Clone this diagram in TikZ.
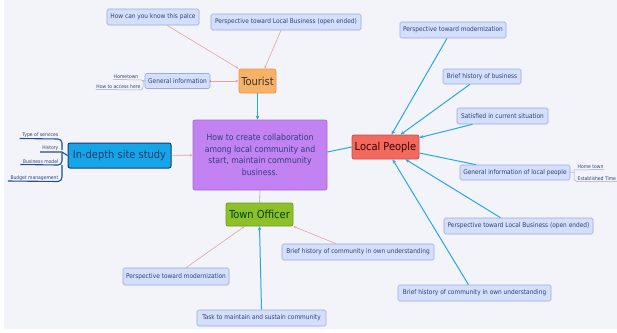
\documentclass[tikz,border=0pt]{standalone}
\usepackage{fontspec}
\setmainfont{DejaVu Sans Condensed}
\usetikzlibrary{arrows.meta}
\definecolor{bgc}{HTML}{F3F4F9}
\definecolor{chfill}{HTML}{D4E0FB}
\definecolor{chdraw}{HTML}{9BAADB}
\definecolor{chtext}{HTML}{2E3F7E}
\definecolor{pinkl}{HTML}{E2A3A3}
\definecolor{bluel}{HTML}{2AA7DF}
\definecolor{tourf}{HTML}{F8B266}
\definecolor{tourd}{HTML}{D89A50}
\definecolor{locf}{HTML}{F26A5E}
\definecolor{locd}{HTML}{C85048}
\definecolor{cenf}{HTML}{C282F2}
\definecolor{cend}{HTML}{A868D8}
\definecolor{indf}{HTML}{14A6E8}
\definecolor{indd}{HTML}{1A3C6A}
\definecolor{townf}{HTML}{8EC02A}
\definecolor{townd}{HTML}{6E9A20}
\definecolor{leafl}{HTML}{1F4F8F}
\definecolor{leafg}{HTML}{A0A8C0}
\begin{document}
\begin{tikzpicture}[x=1pt,y=-1pt,
  child/.style={draw=chdraw,fill=chfill,text=chtext,rounded corners=1.5pt,line width=0.6pt,
     font=\fontsize{6.5}{7.5}\selectfont,inner sep=0pt,minimum height=16pt},
  topic/.style={rounded corners=2pt,line width=0.7pt,inner sep=0pt,font=\fontsize{11}{12}\selectfont},
  leaf/.style={font=\fontsize{5}{6}\selectfont,text=chtext,inner sep=0.5pt},
  pinkc/.style={draw=pinkl,line width=0.6pt,-{Stealth[length=3pt,width=2.5pt]}},
  bluec/.style={draw=bluel,line width=1pt,-{Stealth[length=4pt,width=3.5pt]}}
]
\useasboundingbox (0,0) rectangle (617,332);
\fill[white] (0,0) rectangle (617,332);
\fill[bgc] (4,0) rectangle (617,329);

% center
\node[topic,fill=cenf,draw=cend,text=chtext,minimum width=134pt,minimum height=70pt,align=center,
  font=\fontsize{8.6}{11.5}\selectfont] (c) at (260,155)
  {How to create collaboration\\among local community and\\start, maintain community\\business.};

% topics
\node[topic,fill=tourf,draw=tourd,text=black!80,minimum width=37pt,minimum height=24pt] (tour) at (257.5,81) {Tourist};
\node[topic,fill=locf,draw=locd,text=black!75!red,minimum width=67pt,minimum height=24pt] (loc) at (385.5,147) {Local People};
\node[topic,fill=indf,draw=indd,line width=1pt,text=indd,minimum width=103pt,minimum height=25pt,font=\fontsize{11}{12}\selectfont] (ind) at (119.5,155.5) {In-depth site study};
\node[topic,fill=townf,draw=townd,text=black!75!green,minimum width=67pt,minimum height=23pt] (town) at (259.5,214.5) {Town Officer};

% tourist children
\node[child,minimum width=92pt] (t1) at (153,17) {How can you know this palce};
\node[child,minimum width=150pt] (t2) at (286,22) {Perspective toward Local Business (open ended)};
\node[child,minimum width=65pt,minimum height=15pt] (t3) at (177.5,81) {General information};

% local people children
\node[child,minimum width=106pt] (l1) at (453,30) {Perspective toward modernization};
\node[child,minimum width=78pt,minimum height=15pt] (l2) at (482,76.5) {Brief history of business};
\node[child,minimum width=91pt] (l3) at (502.5,116) {Satisfied in current situation};
\node[child,minimum width=110pt,minimum height=15pt] (l4) at (515,172.5) {General information of local people};
\node[child,minimum width=149pt] (l5) at (518.5,226) {Perspective toward Local Business (open ended)};
\node[child,minimum width=153pt] (l6) at (474.5,293) {Brief history of community in own understanding};

% town officer children
\node[child,minimum width=106pt,minimum height=17pt] (o1) at (176,276.5) {Perspective toward modernization};
\node[child,minimum width=152pt] (o2) at (358,252) {Brief history of community in own understanding};
\node[child,minimum width=129pt] (o3) at (261.5,318) {Task to maintain and sustain community};

% connectors
\draw[bluec] (tour) -- (tour |- c.north);
\draw[pinkc] (t1.south) ++(14,0) -- (tour.north west);
\draw[pinkc] (t2.south) ++(-5,0) -- ([xshift=7pt]tour.north);
\draw[pinkc] (t3) -- (tour);
\fill[pinkl!70!red] (t3.east) circle (0.9pt);
\draw[pinkc] (ind) -- (c);
\draw[draw=bluel,line width=1pt] (c.east) ++(0,-3) -- (loc.west);
\draw[draw=gray!70,line width=0.6pt] (c.south) -- (town.north);

\draw[bluec] ([xshift=-6pt]l1.south) -- ([xshift=6pt]loc.north);
\draw[bluec] ([xshift=-12pt]l2.south) -- ([xshift=15pt]loc.north);
\draw[bluec] ([xshift=-30pt]l3.south) -- ([yshift=-3pt]loc.north east);
\draw[draw=bluel,line width=1pt] ([xshift=-39pt]l4.north) -- ([yshift=-6pt]loc.east);
\draw[bluec] ([xshift=-18pt]l5.north) -- ([xshift=20pt]loc.south);
\draw[bluec] ([xshift=-6pt]l6.north) -- ([xshift=7pt]loc.south);

\draw[pinkc] ([xshift=10pt]o1.north) -- ([xshift=-15pt]town.south);
\draw[pinkc] ([xshift=-22pt]o2.north) -- (town.south east);
\draw[bluec] (o3.north) -- (town.south);

% leaves of General information (tourist)
\node[leaf,anchor=south east] (h1) at (139,79.5) {Hometown};
\node[leaf,anchor=south east] (h2) at (141,89.5) {How to access here};
\draw[leafg,line width=0.5pt] (h1.south west) -- (141,80) -- (t3.west);
\draw[leafg,line width=0.5pt] (h2.south west) -- (141,90) to[out=0,in=-90] (143,86) -- (143,81) -- (t3.west);

% leaves of General information of local people
\node[leaf,anchor=south west] (g1) at (577,169.5) {Home town};
\node[leaf,anchor=south west] (g2) at (577,181.5) {Established Time};
\draw[leafg,line width=0.5pt] (l4.east) -- (574,172) -- (574,170) -- (g1.south east);
\draw[leafg,line width=0.5pt] (574,172) -- (574,180) to[out=90,in=180] (577,181.5) -- (617,181.5);

% leaves of in-depth site study
\node[leaf,anchor=south east] (d1) at (59,138.5) {Type of services};
\node[leaf,anchor=south east] (d2) at (59,151.5) {History};
\node[leaf,anchor=south east] (d3) at (59,164.5) {Business model};
\node[leaf,anchor=south east] (d4) at (59,181) {Budget management};
\begin{scope}[leafl,line width=1.1pt]
\draw ([xshift=-2pt]d1.south west) -- (58,139) to[out=0,in=90] (62,143) -- (62,150);
\draw (40,152) -- (62,152) -- (ind.west);
\draw ([xshift=-2pt]d3.south west) -- (58,165) to[out=0,in=-90] (62,161) -- (62,153);
\draw ([xshift=-2pt]d4.south west) -- (58,181.5) to[out=0,in=-90] (62,177) -- (62,165);
\end{scope}
\end{tikzpicture}
\end{document}
